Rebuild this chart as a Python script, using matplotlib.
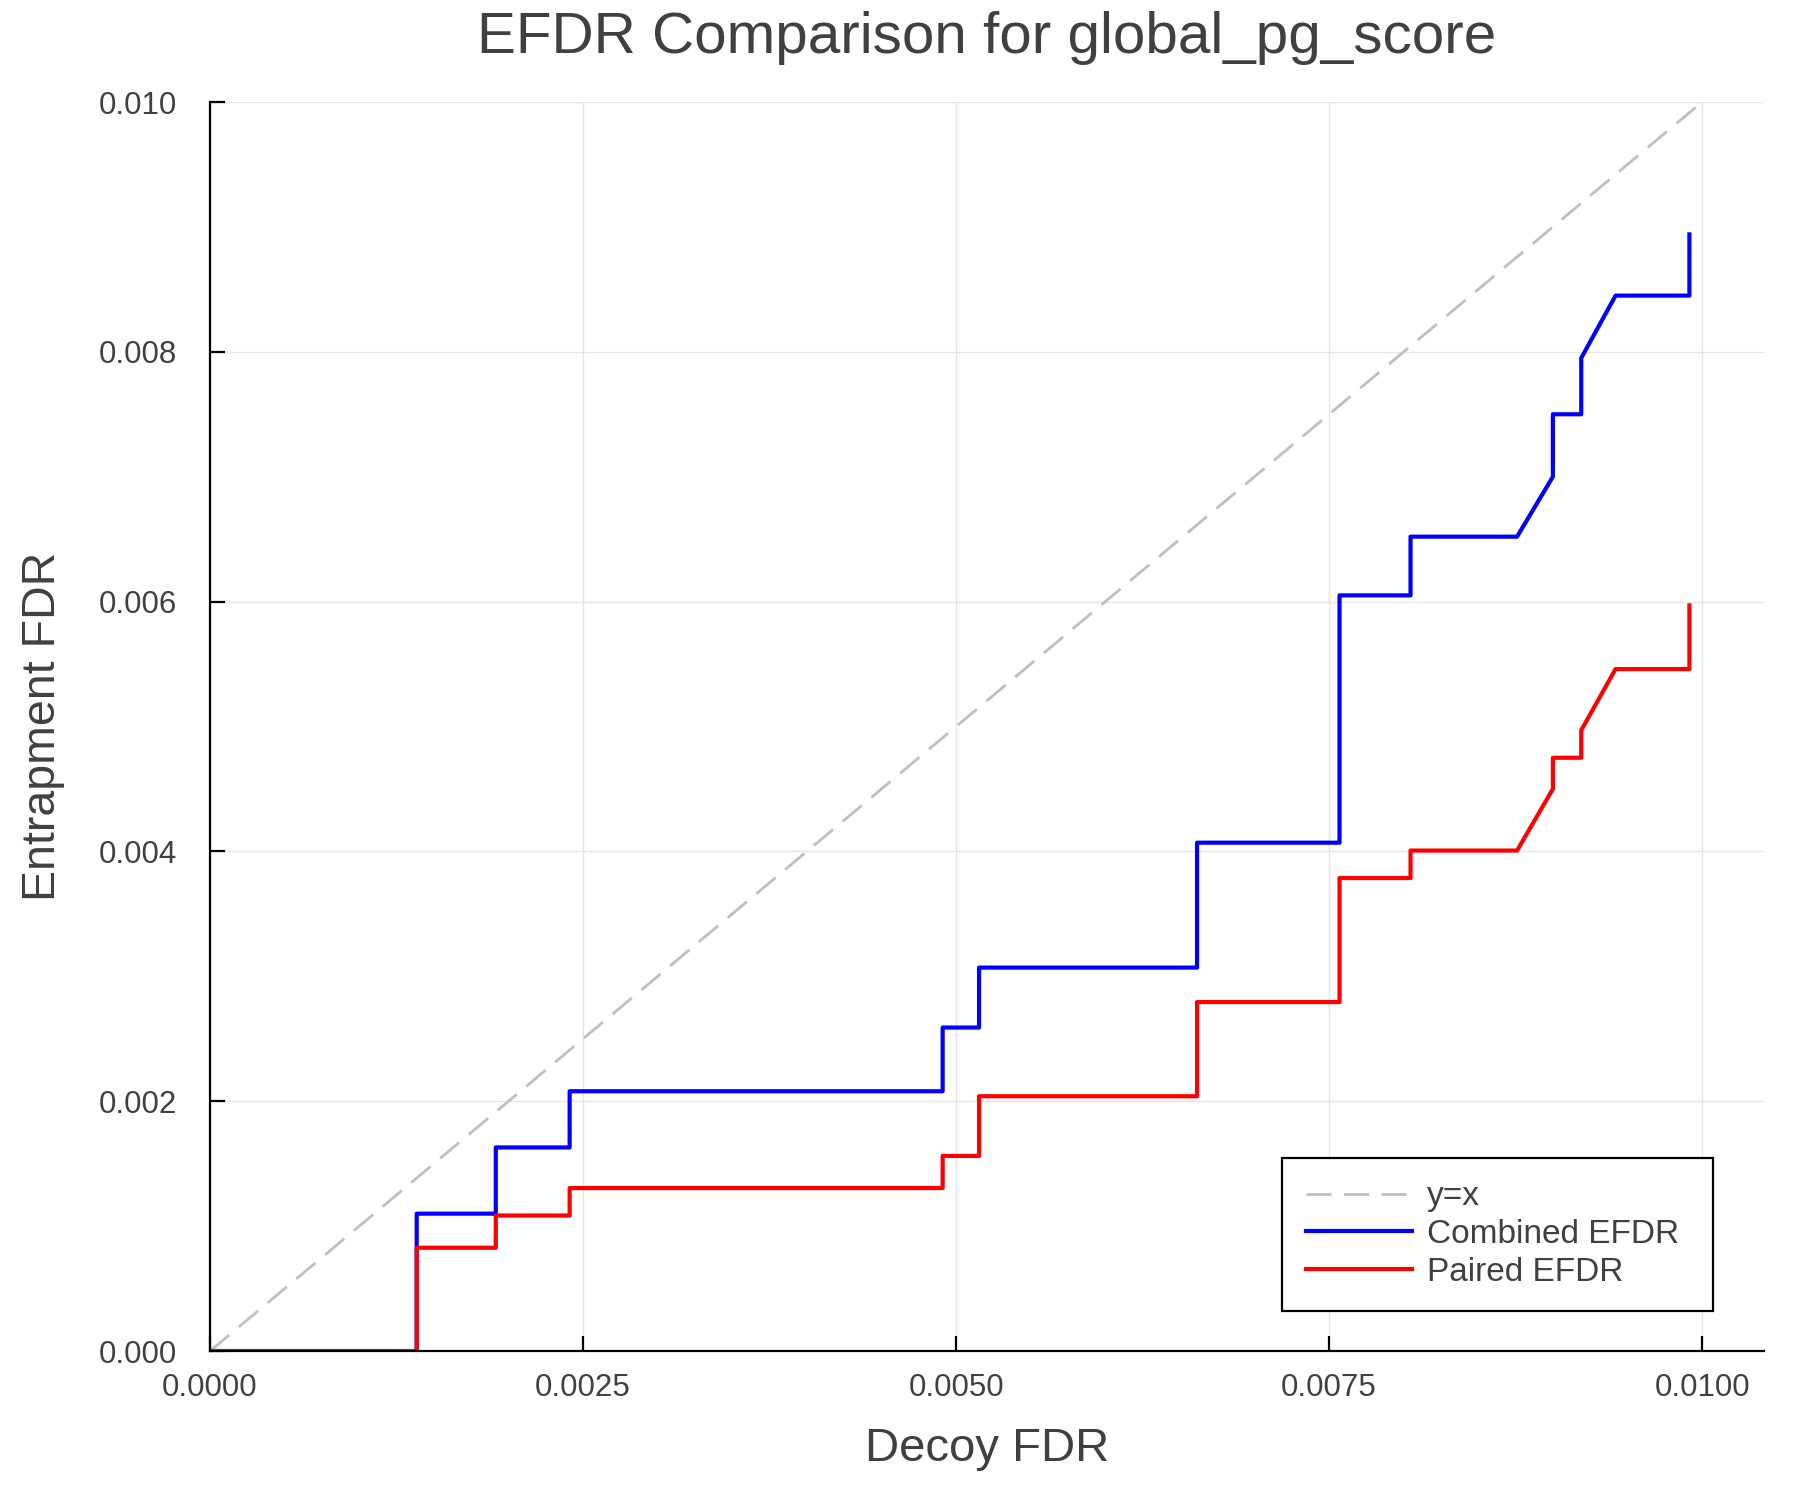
import numpy as np
import matplotlib.pyplot as plt

plt.rcParams['font.family'] = ['Liberation Sans', 'DejaVu Sans']

# decoy FDR thresholds (x) and the two entrapment FDR estimates (y)
decoy_fdr = [0.0, 0.001385, 0.001385, 0.001915, 0.001915, 0.00241, 0.00241,
             0.00491, 0.00491, 0.005154, 0.005154, 0.006615, 0.006615,
             0.00757, 0.00757, 0.008046, 0.008046, 0.00876, 0.009, 0.009,
             0.00919, 0.00919, 0.00942, 0.009915, 0.009915]
combined_efdr = [0.0, 0.0, 0.0011, 0.0011, 0.00163, 0.00163, 0.00208,
                 0.00208, 0.00259, 0.00259, 0.00307, 0.00307, 0.00407,
                 0.00407, 0.00605, 0.00605, 0.00652, 0.00652, 0.0070, 0.0075,
                 0.0075, 0.00795, 0.00845, 0.00845, 0.00894]
paired_efdr = [0.0, 0.0, 0.000827, 0.000827, 0.001085, 0.001085, 0.001305,
               0.001305, 0.001562, 0.001562, 0.00204, 0.00204, 0.002794,
               0.002794, 0.003787, 0.003787, 0.004007, 0.004007, 0.0045,
               0.00475, 0.00475, 0.00497, 0.00546, 0.00546, 0.00597]
diag = [0.0, 0.01]

text_col = "#404040"

fig = plt.figure(figsize=(18, 15), dpi=100)
ax = fig.add_axes([0.1167, 0.0993, 0.8633, 0.8327])

ax.plot(diag, diag, color="#bfbfbf", linestyle=(0, (9, 4.5)), linewidth=2.0, label="y=x")
ax.plot(decoy_fdr, combined_efdr, color="blue", linewidth=3.0, label="Combined EFDR")
ax.plot(decoy_fdr, paired_efdr, color="red", linewidth=3.0, label="Paired EFDR")

ax.set_xlim(0, 0.010415)
ax.set_ylim(0, 0.01)
ax.set_xticks([0.0, 0.0025, 0.005, 0.0075, 0.01])
ax.set_xticklabels(["0.0000", "0.0025", "0.0050", "0.0075", "0.0100"])
ax.set_yticks([0.0, 0.002, 0.004, 0.006, 0.008, 0.01])
ax.set_yticklabels(["0.000", "0.002", "0.004", "0.006", "0.008", "0.010"])
ax.tick_params(direction="in", length=11, width=1.6, labelsize=22.5,
               labelcolor=text_col)
ax.tick_params(axis="x", pad=16)
ax.tick_params(axis="y", pad=24)
ax.grid(True, color="#e6e6e6", linewidth=1.0)
ax.set_axisbelow(True)

for s in ["top", "right"]:
    ax.spines[s].set_visible(False)
for s in ["left", "bottom"]:
    ax.spines[s].set_linewidth(1.6)

ax.set_xlabel("Decoy FDR", fontsize=34, color=text_col, labelpad=17)
ax.set_ylabel("Entrapment FDR", fontsize=33.5, color=text_col, labelpad=24)
ax.set_title("EFDR Comparison for global_pg_score", fontsize=42,
             color=text_col, pad=35.5)

leg = ax.legend(loc="upper left", bbox_to_anchor=(0.690, 0.03, 0.277, 0.1245),
                mode="expand", fontsize=24, fancybox=False, framealpha=1,
                edgecolor="black", handlelength=3.2, handletextpad=0.45,
                borderpad=0.7, labelspacing=0.2, borderaxespad=0)
leg.get_frame().set_linewidth(1.6)
for t in leg.get_texts():
    t.set_color(text_col)

fig.savefig("out.png", dpi=100)
